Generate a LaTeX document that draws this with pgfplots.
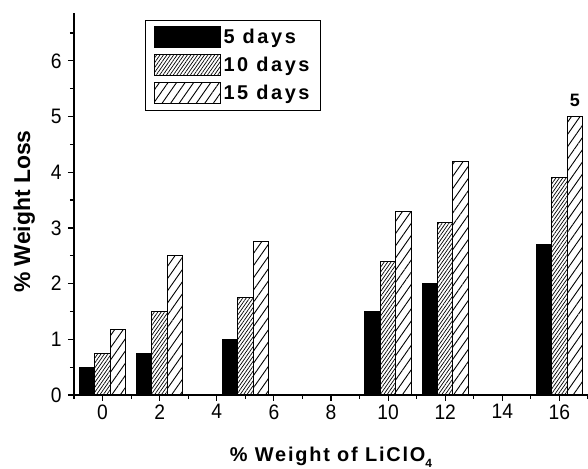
\documentclass[border=0pt]{standalone}
\usepackage{fontspec}
\setmainfont{Liberation Sans}
\newfontfamily\tickfont[FakeStretch=0.92]{Liberation Sans}
\newfontfamily\spacedfont[LetterSpace=9]{Liberation Sans}
\newfontfamily\legfont[LetterSpace=13]{Liberation Sans}
\usepackage{pgfplots}
\pgfplotsset{compat=1.18}
\usetikzlibrary{patterns.meta}
\begin{document}
\begin{tikzpicture}
\begin{axis}[
  name=ax, at={(0,0)}, anchor=south west,
  scale only axis, width=514bp, height=382bp,
  xmin=-1, xmax=17, ymin=0, ymax=6.86,
  axis lines=left, axis line style={-, line width=1.4bp},
  xtick={0,2,...,16}, minor xtick={-1,1,...,17},
  ytick={0,1,...,6}, minor ytick={0.5,1.5,...,6.5},
  tick align=outside, major tick length=6bp, minor tick length=4bp,
  tick style={line width=1.2bp, black},
  ticklabel style={font=\tickfont\fontsize{21}{22}\selectfont},
  yticklabel style={xshift=-3bp},
  /pgf/number format/assume math mode=true,
  xlabel={\spacedfont\bfseries\fontsize{20}{22}\selectfont \% Weight of LiClO\raisebox{-6bp}{\fontsize{12}{12}\selectfont 4}},
  xlabel style={at={(rel axis cs:0.5,-0.162)}, anchor=center},
  ylabel={\bfseries\fontsize{23}{24}\selectfont \% Weight Loss},
  ylabel style={at={(rel axis cs:-0.097,0.48)}, anchor=center},
  legend style={at={(0.138,0.982)}, anchor=north west, draw=black, line width=1.2bp,
    font=\legfont\bfseries\fontsize{20}{22}\selectfont,
    inner xsep=8bp, inner ysep=6bp, row sep=6bp,
    nodes={inner xsep=3bp, inner ysep=2bp}},
  legend cell align=left,
]
\addplot[ybar, bar width=0.54, bar shift=-0.54, draw=black, line width=1bp, fill=black,
  legend image code/.code={\draw[black, line width=1bp, fill=black] (0bp,-10.5bp) rectangle (66bp,10.5bp);}]
  coordinates {(0,0.5) (2,0.75) (5,1.0) (10,1.5) (12,2.0) (16,2.7)};
\addlegendentry{5 days}
\addplot[ybar, bar width=0.54, bar shift=0, draw=black, line width=1bp,
  pattern={Lines[angle=55,distance=2.8bp,line width=0.7bp]},
  legend image code/.code={\draw[black, line width=1bp, pattern={Lines[angle=55,distance=2.8bp,line width=0.7bp]}] (0bp,-10.5bp) rectangle (66bp,10.5bp);}]
  coordinates {(0,0.75) (2,1.5) (5,1.75) (10,2.4) (12,3.1) (16,3.9)};
\addlegendentry{10 days}
\addplot[ybar, bar width=0.54, bar shift=0.54, draw=black, line width=1bp,
  pattern={Lines[angle=55,distance=7bp,line width=0.9bp]},
  legend image code/.code={\draw[black, line width=1bp, pattern={Lines[angle=55,distance=7bp,line width=0.9bp]}] (0bp,-10.5bp) rectangle (66bp,10.5bp);}]
  coordinates {(0,1.18) (2,2.5) (5,2.75) (10,3.3) (12,4.2) (16,5.0)};
\addlegendentry{15 days}
\node[font=\bfseries\fontsize{18}{18}\selectfont, anchor=south, inner sep=0pt] at (axis cs:16.54,5.18) {5};
\end{axis}
\pgfresetboundingbox
\path ([shift={(-74bp,-74bp)}]ax.south west) rectangle ([shift={(0bp,13bp)}]ax.north east);
\end{tikzpicture}
\end{document}
